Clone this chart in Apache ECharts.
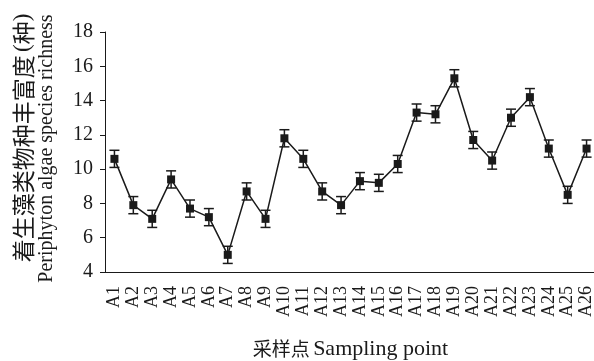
<!DOCTYPE html>
<html>
<head>
<meta charset="utf-8">
<script src="https://cdn.jsdelivr.net/npm/echarts@6/dist/echarts.min.js"></script>
<style>
  html, body { margin: 0; padding: 0; background: #fff; }
  #chart { width: 594px; height: 361px; }
</style>
</head>
<body>
<div id="chart"></div>
<script>
// Sampling sites
const sites = ['A1','A2','A3','A4','A5','A6','A7','A8','A9','A10','A11','A12','A13',
               'A14','A15','A16','A17','A18','A19','A20','A21','A22','A23','A24','A25','A26'];
// Mean species richness at each site
const richness = [10.6, 7.9, 7.1, 9.4, 7.7, 7.2, 5.0, 8.7, 7.1, 11.8, 10.6, 8.7, 7.9,
                  9.3, 9.2, 10.3, 13.3, 13.2, 15.3, 11.7, 10.5, 13.0, 14.2, 11.2, 8.5, 11.2];
// Standard error for each site
const stdErr = [0.5, 0.5, 0.5, 0.5, 0.5, 0.5, 0.5, 0.5, 0.5, 0.5, 0.5, 0.5, 0.5,
                0.5, 0.5, 0.5, 0.5, 0.5, 0.5, 0.5, 0.5, 0.5, 0.5, 0.5, 0.5, 0.5];
// Y axis range
const yMin = 4, yMax = 18, yStep = 2;

const serif = "'Liberation Serif', 'Times New Roman', serif";
const cjk = "'Noto Sans CJK SC', sans-serif";
const ink = '#1a1a1a';

const errData = sites.map((s, i) => [i, richness[i] - stdErr[i], richness[i] + stdErr[i]]);

const chart = echarts.init(document.getElementById('chart'), null, { renderer: 'canvas' });
chart.setOption({
  animation: false,
  backgroundColor: '#fff',
  grid: { left: 105, top: 32, width: 491, height: 240, containLabel: false, outerBoundsMode: 'none' },
  xAxis: {
    type: 'category',
    data: sites,
    boundaryGap: true,
    axisLine: { lineStyle: { color: ink, width: 1 } },
    axisTick: { inside: true, length: 4, lineStyle: { color: ink } },
    axisLabel: { rotate: 90, interval: 0, margin: 14, color: ink, fontFamily: serif, fontSize: 18 },
    splitLine: { show: false },
    name: '{c|采样点} {l|Sampling point}',
    nameLocation: 'middle',
    nameGap: 66,
    nameTextStyle: {
      rich: {
        c: { fontFamily: cjk, fontSize: 19, color: ink },
        l: { fontFamily: serif, fontSize: 22, color: ink }
      }
    }
  },
  yAxis: {
    type: 'value',
    min: yMin, max: yMax, interval: yStep,
    axisLine: { show: true, lineStyle: { color: ink, width: 1 } },
    axisTick: { show: true, inside: false, length: 5, lineStyle: { color: ink } },
    axisLabel: { margin: 12, color: ink, fontFamily: serif, fontSize: 20 },
    splitLine: { show: false }
  },
  graphic: [
    {
      type: 'text', x: 23, y: 138, rotation: Math.PI / 2,
      style: {
        text: '{c|着生藻类物种丰富度} {l|(}{c|种}{l|)}',
        align: 'center', verticalAlign: 'middle',
        rich: {
          c: { fontFamily: cjk, fontSize: 23, fill: ink },
          l: { fontFamily: serif, fontSize: 23, fill: ink }
        }
      }
    },
    {
      type: 'text', x: 47, y: 148.5, rotation: Math.PI / 2,
      style: {
        text: 'Periphyton algae species richness',
        align: 'center', verticalAlign: 'middle',
        font: '20px ' + serif, fill: ink
      }
    }
  ],
  series: [
    {
      type: 'line',
      data: richness,
      symbol: 'rect',
      symbolSize: 8,
      lineStyle: { color: ink, width: 1.5 },
      itemStyle: { color: ink },
      z: 3
    },
    {
      type: 'custom',
      data: errData,
      z: 2,
      renderItem: function (params, api) {
        const x = api.value(0);
        const lo = api.coord([x, api.value(1)]);
        const hi = api.coord([x, api.value(2)]);
        const half = 5;
        const st = { stroke: ink, lineWidth: 1.5 };
        return {
          type: 'group',
          children: [
            { type: 'line', shape: { x1: lo[0], y1: lo[1], x2: hi[0], y2: hi[1] }, style: st },
            { type: 'line', shape: { x1: lo[0] - half, y1: lo[1], x2: lo[0] + half, y2: lo[1] }, style: st },
            { type: 'line', shape: { x1: hi[0] - half, y1: hi[1], x2: hi[0] + half, y2: hi[1] }, style: st }
          ]
        };
      }
    }
  ]
});
</script>
</body>
</html>
